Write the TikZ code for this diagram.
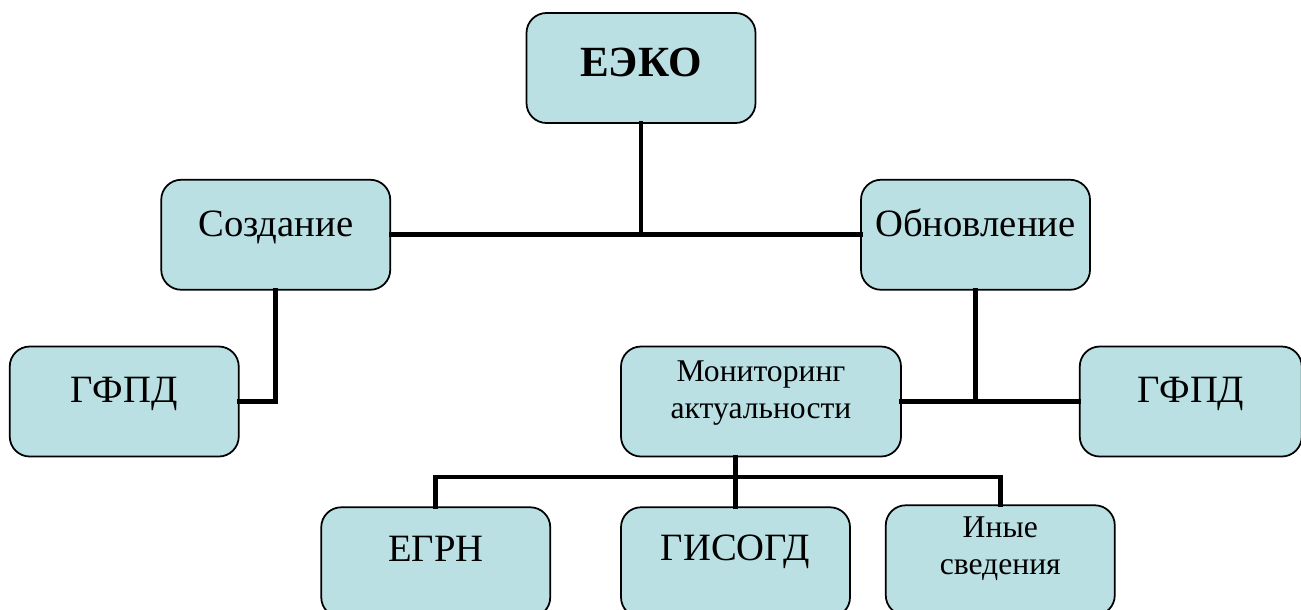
\documentclass[tikz,border=0pt]{standalone}
\usepackage{fontspec}
\setmainfont{Liberation Serif}
\usepackage{xcolor}
\usetikzlibrary{positioning}
\definecolor{DEFINE_BOX_COLOR}{HTML}{BAE0E3}
\tikzstyle{BOX_COLOR}=[fill=DEFINE_BOX_COLOR]
\tikzstyle{block} = [rectangle, draw=black, line width=1pt, rounded corners=0.4cm, BOX_COLOR, minimum width=4.58cm, minimum height=2.2cm, inner sep=0pt]
\tikzstyle{txt} = [align=center, inner sep=0pt, text height=0.7em, text depth=0.25em, font=\fontsize{22}{26}\selectfont]
\tikzstyle{small_txt} = [align=center, inner sep=0pt, font=\fontsize{18}{21.4}\selectfont]
\tikzstyle{conn} = [line width=2.8pt, line cap=rect]

\begin{document}
\begin{tikzpicture}[node distance = 1.1cm and 0cm]
      \useasboundingbox (0,0) rectangle (26.02,-12.18);

      %%%%%%%%%%%%%%%%%%%%%%%%%%%%%%%%%%%%%%%%%%%%%%%%%
      % TOP LEVELS
      %%%%%%%%%%%%%%%%%%%%%%%%%%%%%%%%%%%%%%%%%%%%%%%%%
      \node[block, label={[txt, yshift=-0.1cm, font=\fontsize{24.5}{28}\selectfont\bfseries]center:ЕЭКО}] (EKO) at (12.82,-1.36) {};
      \node[block, below left= 1.1cm and 2.69cm of EKO, label={[txt, yshift=0.05cm]center:Создание}] (SOZ) {};
      \node[block, right= 9.38cm of SOZ, label={[txt, yshift=0.05cm]center:Обновление}] (OBN) {};

      %%%%%%%%%%%%%%%%%%%%%%%%%%%%%%%%%%%%%%%%%%%%%%%%%
      % SECOND ROW
      %%%%%%%%%%%%%%%%%%%%%%%%%%%%%%%%%%%%%%%%%%%%%%%%%
      \node[block, below= of SOZ, xshift=-3.03cm, label={[txt, yshift=0.05cm]center:ГФПД}] (GFPD1) {};
      \node[block, minimum width=5.6cm, below= of OBN, xshift=-4.29cm, label={[small_txt, yshift=0.17cm]center:Мониторинг\\актуальности}] (MON) {};
      \node[block, minimum width=4.44cm, right= 3.54cm of MON, label={[txt, yshift=0.05cm]center:ГФПД}] (GFPD2) {};

      %%%%%%%%%%%%%%%%%%%%%%%%%%%%%%%%%%%%%%%%%%%%%%%%%
      % SOURCES
      %%%%%%%%%%%%%%%%%%%%%%%%%%%%%%%%%%%%%%%%%%%%%%%%%
      \node[block, below= 0.98cm of MON, xshift=-0.51cm, label={[txt, yshift=0.11cm]center:ГИСОГД}] (GIS) {};
      \node[block, left= 1.38cm of GIS, label={[txt, yshift=0.09cm]center:ЕГРН}] (EGRN) {};
      \node[block, right= 0.68cm of GIS, yshift=0.04cm, label={[small_txt, yshift=0.23cm]center:Иные\\сведения}] (INY) {};

      %%%%%%%%%%%%%%%%%%%%%%%%%%%%%%%%%%%%%%%%%%%%%%%%%
      % CONNECTORS
      %%%%%%%%%%%%%%%%%%%%%%%%%%%%%%%%%%%%%%%%%%%%%%%%%
      \coordinate (BUS) at (0,-9.54);
      \draw[conn] (EKO.south) -- (EKO.south |- SOZ.east);
      \draw[conn] (SOZ.east) -- (OBN.west);
      \draw[conn] (SOZ.south) |- (GFPD1.east);
      \draw[conn] (OBN.south) -- (OBN.south |- MON.east);
      \draw[conn] (MON.east) -- (GFPD2.west);
      \draw[conn] (GIS.north) -- (GIS.north |- MON.south);
      \draw[conn] (EGRN.north) -- (EGRN.north |- BUS) -- (INY.north |- BUS) -- (INY.north);

\end{tikzpicture}
\end{document}
